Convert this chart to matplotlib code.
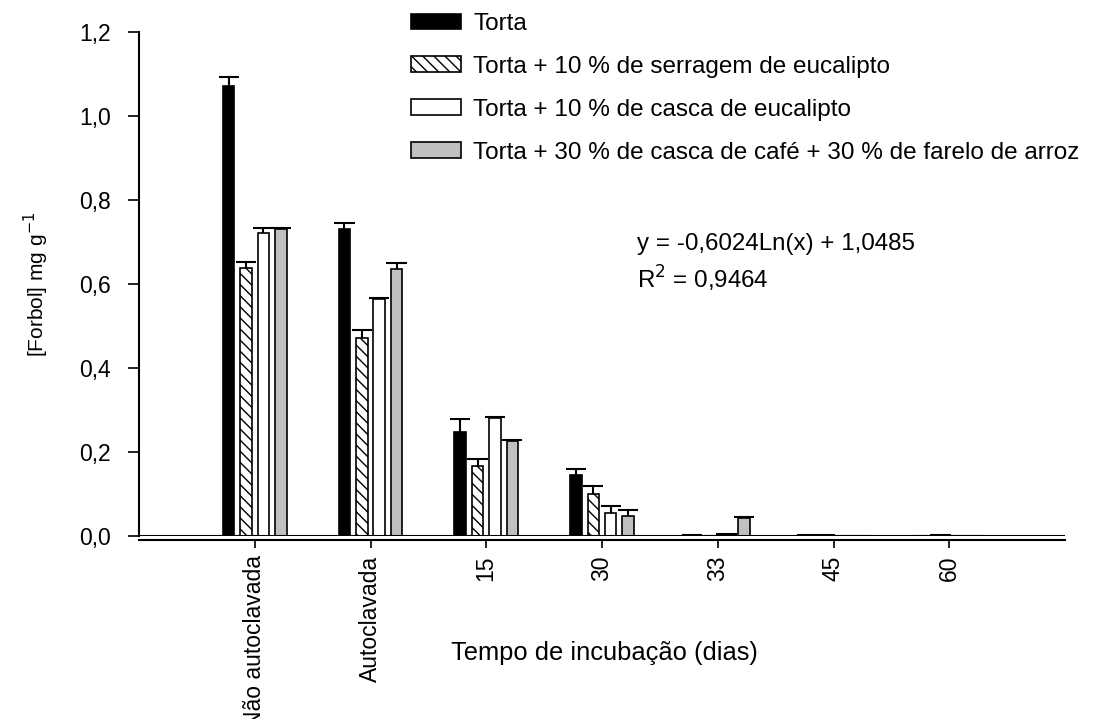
import numpy as np
import matplotlib
matplotlib.use("Agg")
import matplotlib.pyplot as plt

plt.rcParams["font.family"] = ["Liberation Sans", "DejaVu Sans"]

categories = ["Não autoclavada", "Autoclavada", "15", "30", "33", "45", "60"]
series_names = [
    "Torta",
    "Torta + 10 % de serragem de eucalipto",
    "Torta + 10 % de casca de eucalipto",
    "Torta + 30 % de casca de café + 30 % de farelo de arroz",
]
torta = [1.071, 0.731, 0.247, 0.145, 0.003, 0.003, 0.001]
torta_err = [0.022, 0.014, 0.032, 0.015, 0.0, 0.0, 0.0]
serragem = [0.638, 0.471, 0.167, 0.100, 0.001, 0.002, 0.002]
serragem_err = [0.014, 0.019, 0.016, 0.019, 0.0, 0.0, 0.0]
casca_euc = [0.721, 0.564, 0.281, 0.055, 0.004, 0.001, 0.001]
casca_euc_err = [0.012, 0.002, 0.002, 0.016, 0.0, 0.0, 0.0]
cafe_arroz = [0.731, 0.636, 0.226, 0.048, 0.043, 0.001, 0.001]
cafe_arroz_err = [0.002, 0.014, 0.003, 0.014, 0.002, 0.0, 0.0]

values = [torta, serragem, casca_euc, cafe_arroz]
errors = [torta_err, serragem_err, casca_euc_err, cafe_arroz_err]
faces = ["black", "white", "white", "#c0c0c0"]
hatches = [None, "\\\\\\", None, None]

W, H = 1105, 719

fig = plt.figure(figsize=(W / 100, H / 100), dpi=100)
ax = fig.add_axes([139 / W, 1 - 536 / H, (1065 - 139) / W, (536 - 32) / H])

# spine position first: moving it resets the tick labels
ax.spines["top"].set_visible(False)
ax.spines["right"].set_visible(False)
ax.spines["left"].set_linewidth(1.5)
ax.spines["bottom"].set_linewidth(1.5)
ax.spines["bottom"].set_position(("outward", 3))

x = np.arange(len(categories))
width = 0.1
cap = 0.087
offsets = [-0.225, -0.075, 0.075, 0.225]
for vals, errs, fc, h, off, name in zip(values, errors, faces, hatches, offsets, series_names):
    vals = np.array(vals)
    tops = vals + np.array(errs)
    ax.bar(x + off, vals, width, color=fc, edgecolor="black", linewidth=1.2,
           hatch=h, label=name, zorder=2)
    # upper error bars only
    ax.vlines(x + off, vals, tops, color="black", lw=1.5, zorder=3)
    ax.hlines(tops, x + off - cap, x + off + cap, color="black", lw=1.5, zorder=3)

ax.axhline(0, color="black", lw=1.5, zorder=4)

ax.set_xlim(-1, 7)
ax.set_ylim(0, 1.2)
yt = np.arange(0, 1.21, 0.2)
ax.set_yticks(yt)
ax.set_yticklabels([f"{v:.1f}".replace(".", ",") for v in yt], fontsize=16.5)
ax.set_xticks(x)
ax.set_xticklabels(categories, rotation=90, fontsize=16.5, va="top")
ax.tick_params(axis="both", direction="out", width=1.2)
ax.tick_params(axis="x", length=6, pad=5)
ax.tick_params(axis="y", length=8, pad=12)

fig.text(36 / W, 1 - 284 / H, "[Forbol] mg g$^{-1}$", rotation=90,
         ha="center", va="center", fontsize=15)
fig.text(604 / W, 1 - 653 / H, "Tempo de incubação (dias)",
         ha="center", va="center", fontsize=18.4)

fig.text(637 / W, 1 - 244 / H, "y = -0,6024Ln(x) + 1,0485",
         ha="left", va="center", fontsize=17.4)
fig.text(637 / W, 1 - 279 / H, "R$^2$ = 0,9464",
         ha="left", va="center", fontsize=17.4)

ax.legend(loc="upper left", bbox_to_anchor=(411 / W, 1 - 13 / H),
          bbox_transform=fig.transFigure, frameon=False, fontsize=17.5,
          handlelength=2.06, handleheight=0.62, labelspacing=0.86, handletextpad=0.5,
          borderaxespad=0, borderpad=0)

fig.savefig("out.png", dpi=100)
